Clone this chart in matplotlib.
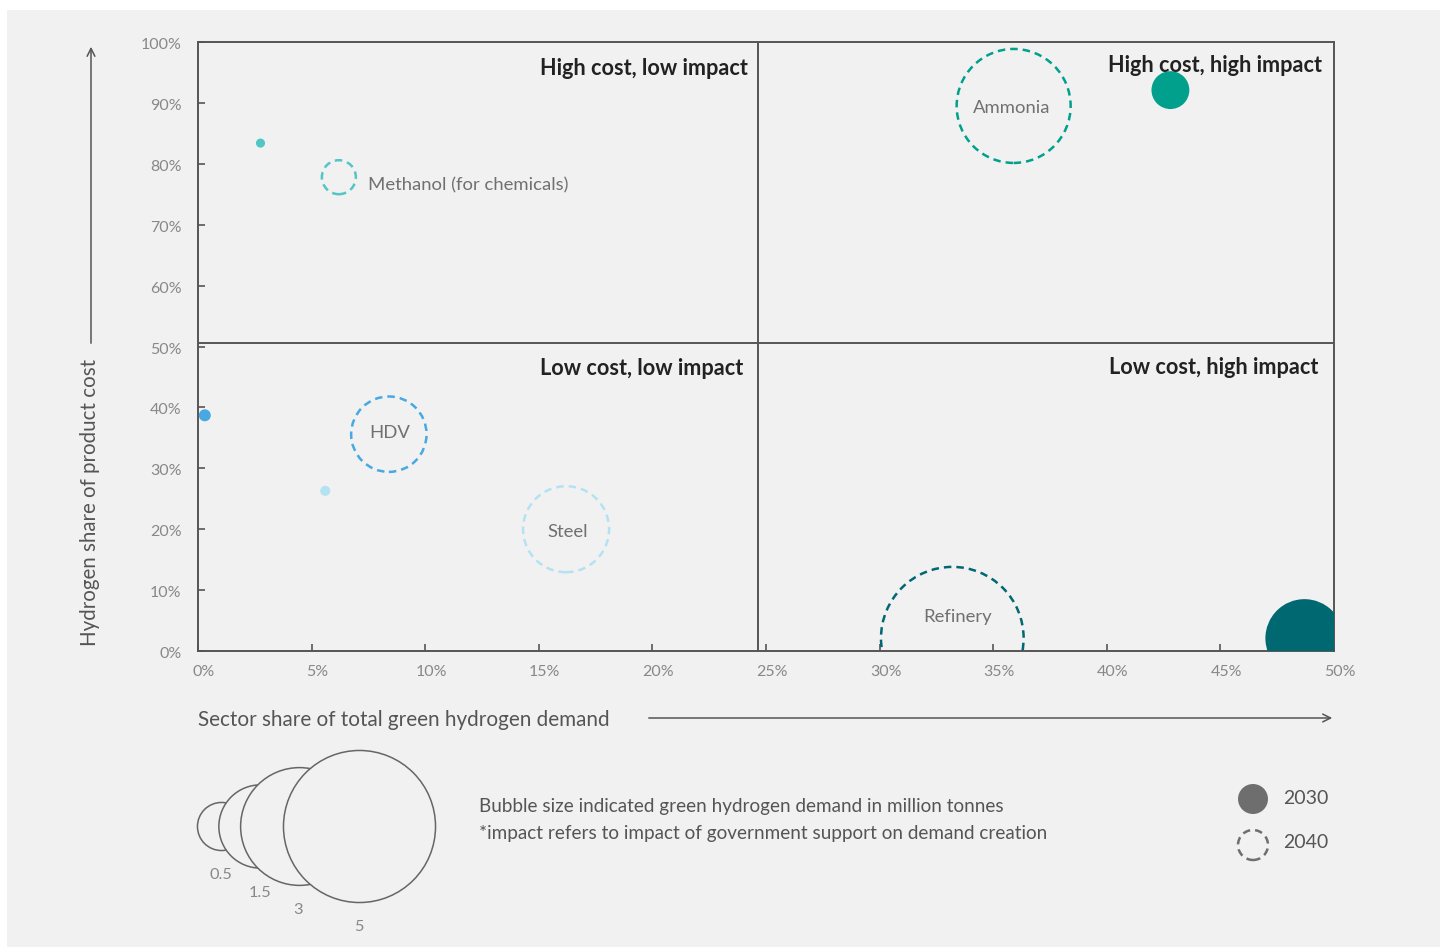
import matplotlib
matplotlib.use('Agg')
import matplotlib.pyplot as plt
from matplotlib.patches import Rectangle
from matplotlib.transforms import ScaledTranslation

plt.rcParams['font.family'] = ['Lato', 'DejaVu Sans']

# sector data: x = share of green H2 demand (%), y = H2 share of product cost (%), demand in Mt
sectors = ['Methanol (for chemicals)', 'Ammonia', 'HDV', 'Steel', 'Refinery']
colors = ['#52c6c6', '#00a08c', '#48a8e2', '#b5e2f2', '#006870']
x_2030 = [2.75, 42.8, 0.3, 5.6, 48.7]
y_2030 = [83.4, 92.1, 38.7, 26.3, 2.1]
dem_2030 = [0.018, 0.31, 0.031, 0.022, 1.32]
x_2040 = [6.2, 35.9, 8.4, 16.2, 33.2]
y_2040 = [77.8, 89.5, 35.6, 20.0, 2.1]
dem_2040 = [0.25, 2.81, 1.23, 1.6, 4.4]
label_xy = [(7.5, 76.5), (35.8, 89.2), (8.45, 35.8), (16.25, 19.5), (33.45, 5.6)]
label_ha = ['left', 'center', 'center', 'center', 'center']

quadrants = ['High cost, low impact', 'High cost, high impact', 'Low cost, low impact', 'Low cost, high impact']
quad_xy = [(24.2, 95.7), (49.47, 96.2), (23.99, 46.4), (49.3, 46.6)]

size_legend = [0.5, 1.5, 3, 5]
size_labels = ['0.5', '1.5', '3', '5']

S = 2397  # points^2 per Mt

fig = plt.figure(figsize=(14.4, 9.47), dpi=100)
fig.patch.set_facecolor('white')
fig.patches.append(Rectangle((7 / 1440, 0), 1, 1 - 10 / 947, transform=fig.transFigure,
                             facecolor='#f1f1f1', edgecolor='none', zorder=-10))

ax = fig.add_axes([198 / 1440, 1 - 651 / 947, (1334 - 198) / 1440, (651 - 42) / 947])
ax.set_facecolor('none')
ax.set_xlim(0, 50)
ax.set_ylim(0, 100)

for i in range(len(sectors)):
    ax.scatter(x_2030[i], y_2030[i], s=S * dem_2030[i], color=colors[i], edgecolor='none', zorder=3)
    ax.scatter(x_2040[i], y_2040[i], s=S * dem_2040[i], facecolor='none', edgecolor=colors[i],
               linewidths=1.8, linestyles=(0, (3, 2)), zorder=3)
    ax.text(label_xy[i][0], label_xy[i][1], sectors[i], ha=label_ha[i], va='center',
            fontsize=13.3, color='#707070', zorder=4)

for q, (qx, qy) in zip(quadrants, quad_xy):
    ax.text(qx, qy, q, ha='right', va='center', fontsize=15.6, fontweight='bold', color='#222222')

ax.axvline(24.65, color='#555555', lw=1.4, zorder=2)
ax.axhline(50.6, color='#555555', lw=1.4, zorder=2)

ax.set_xticks(range(0, 51, 5))
ax.set_xticklabels([f'{v}%' for v in range(0, 51, 5)])
ax.set_yticks(range(0, 101, 10))
ax.set_yticklabels([f'{v}%' for v in range(0, 101, 10)])
ax.tick_params(direction='in', length=5, width=1.2, color='#555555', labelcolor='#888888', labelsize=11.5)
ax.tick_params(axis='x', pad=10)
ax.tick_params(axis='y', pad=12)
for lbl in ax.get_xticklabels():
    lbl.set_transform(lbl.get_transform() + ScaledTranslation(0.06, 0, fig.dpi_scale_trans))
for lbl in ax.get_yticklabels():
    lbl.set_transform(lbl.get_transform() + ScaledTranslation(0, -0.015, fig.dpi_scale_trans))
for sp in ax.spines.values():
    sp.set_color('#555555')
    sp.set_linewidth(1.4)

# overlay in pixel coordinates for axis titles and legends
ov = fig.add_axes([0, 0, 1, 1])
ov.set_xlim(0, 1440)
ov.set_ylim(947, 0)
ov.axis('off')
ov.patch.set_alpha(0)

ov.text(90, 502, 'Hydrogen share of product cost', rotation=90, ha='center', va='center',
        fontsize=14.8, color='#555555')
ov.annotate('', xy=(91, 44), xytext=(91, 346),
            arrowprops=dict(arrowstyle='->', color='#555555', lw=1.1, mutation_scale=14))
ov.text(198, 720, 'Sector share of total green hydrogen demand', ha='left', va='center',
        fontsize=14.9, color='#555555')
ov.annotate('', xy=(1335, 718), xytext=(646, 718),
            arrowprops=dict(arrowstyle='->', color='#555555', lw=1.1, mutation_scale=14))

# bubble size legend
legend_cx = [221, 260, 298.5, 358.5]
cy = 826
for k, (v, lab) in enumerate(zip(size_legend, size_labels)):
    r = 34 * v ** 0.5
    ov.scatter(legend_cx[k], cy, s=S * v, facecolor='#f1f1f1', edgecolor='#666666', linewidths=1.1, zorder=5 + k)
    ov.text(legend_cx[k], cy + r + 25, lab, ha='center', va='center', fontsize=11.8, color='#888888')

ov.text(479, 806, 'Bubble size indicated green hydrogen demand in million tonnes', ha='left', va='center',
        fontsize=13.6, color='#555555')
ov.text(479, 833, '*impact refers to impact of government support on demand creation', ha='left', va='center',
        fontsize=13.6, color='#555555')

ov.scatter(1253, 799, s=466, color='#6e6e6e', edgecolor='none')
ov.scatter(1253, 845, s=466, facecolor='none', edgecolor='#6e6e6e', linewidths=1.8, linestyles=(0, (3, 2)))
ov.text(1283, 798, '2030', ha='left', va='center', fontsize=14, color='#555555')
ov.text(1283, 842, '2040', ha='left', va='center', fontsize=14, color='#555555')

fig.savefig('out.png', dpi=100, facecolor=fig.get_facecolor())
